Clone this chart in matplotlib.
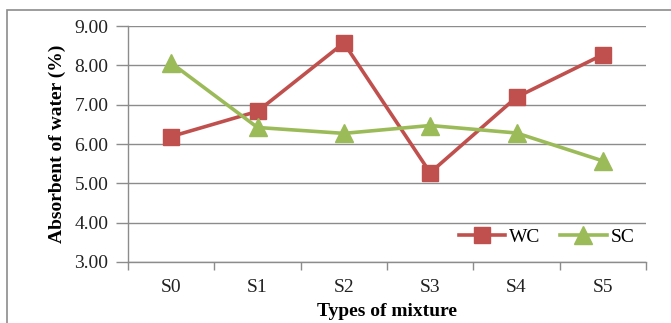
import matplotlib
matplotlib.use("Agg")
import matplotlib.pyplot as plt
from matplotlib.patches import Rectangle

categories = ["S0", "S1", "S2", "S3", "S4", "S5"]
wc = [6.19, 6.83, 8.57, 5.27, 7.19, 8.27]
sc = [8.06, 6.42, 6.27, 6.47, 6.28, 5.57]
yticks = [3.00, 4.00, 5.00, 6.00, 7.00, 8.00, 9.00]

plt.rcParams['font.family'] = ['Liberation Serif', 'DejaVu Serif']

fig = plt.figure(figsize=(6.71, 3.23), dpi=100)
ax = fig.add_axes([128/671, 1-262/323, (646-128)/671, (262-26)/323])

grid_c = "#8c8c8c"
x = list(range(len(categories)))
ax.plot(x, wc, color="#C0504D", lw=2.6, marker="s", ms=11.5, label="WC", zorder=3)
ax.plot(x, sc, color="#9BBB59", lw=2.6, marker="^", ms=12.5, label="SC", zorder=3)

ax.set_xlim(-0.5, len(categories) - 0.5)
ax.set_ylim(3, 9)
ax.set_yticks(yticks)
ax.set_yticklabels([f"{v:.2f}" for v in yticks], fontsize=14, color="#222222")
ax.set_xticks(x)
ax.set_xticklabels(categories, fontsize=14, color="#222222")
ax.set_xticks([i - 0.5 for i in range(len(categories) + 1)], minor=True)
ax.tick_params(axis="x", which="major", length=0, pad=12)
ax.tick_params(axis="x", which="minor", length=6, color=grid_c, width=1)
ax.tick_params(axis="y", length=9, color=grid_c, width=1, pad=5)
ax.yaxis.grid(True, color=grid_c, lw=1)
ax.set_axisbelow(True)
for s in ["top", "right"]:
    ax.spines[s].set_visible(False)
for s in ["left", "bottom"]:
    ax.spines[s].set_color(grid_c)
    ax.spines[s].set_linewidth(1)

ax.set_ylabel("Absorbent of water (%)", fontsize=14, fontweight="bold", labelpad=6)
ax.set_xlabel("Types of mixture", fontsize=14, fontweight="bold", labelpad=5)

leg = ax.legend(loc="lower right", bbox_to_anchor=(1.0, 0.02), ncol=2, frameon=False,
                fontsize=14, handlelength=2.4, handletextpad=0.2, columnspacing=1.0,
                borderaxespad=0.2)

fig.patches.append(Rectangle((7/671, -0.05), 1.0, 1 - 10/323 + 0.05, transform=fig.transFigure,
                             fill=False, edgecolor="#8c8c8c", lw=1.2, clip_on=False))

fig.savefig("out.png", dpi=100)
